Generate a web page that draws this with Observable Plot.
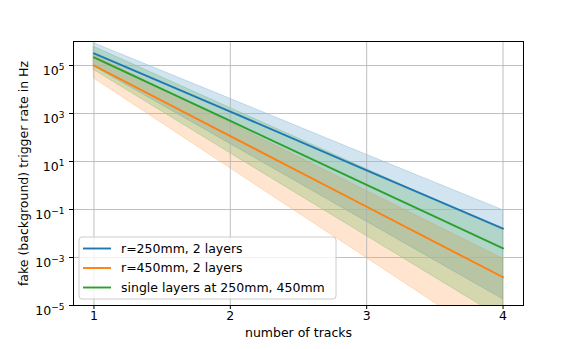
<!DOCTYPE html>
<html><head><meta charset="utf-8">
<script src="https://cdn.jsdelivr.net/npm/d3@7"></script>
<script src="https://cdn.jsdelivr.net/npm/@observablehq/plot@0.6"></script>
<style>body{margin:0;background:#fff;} svg{display:block;}</style>
</head><body><div id="chart"></div>
<script>
// ---- data ----
const tracks = [1, 2, 3, 4];
const seriesNames = ["r=250mm, 2 layers", "r=450mm, 2 layers", "single layers at 250mm, 450mm"];
const seriesColors = ["#1f77b4", "#ff7f0e", "#2ca02c"];
const rate250 = [3.2e5, 1.2e3, 4.3, 1.6e-2];
const rate250Hi = [8.5e5, 4.1e3, 19, 9.3e-2];
const rate250Lo = [9.1e4, 54, 3.1e-2, 1.8e-5];
const rate450 = [1.0e5, 115, 0.13, 1.5e-4];
const rate450Hi = [2.7e5, 400, 0.59, 8.9e-4];
const rate450Lo = [2.9e4, 5.2, 9.5e-4, 1.7e-7];
const rateSingle = [2.2e5, 490, 1.07, 2.4e-3];
const rateSingleHi = [6.0e5, 1.7e3, 4.8, 1.4e-2];
const rateSingleLo = [6.5e4, 22, 7.8e-3, 2.8e-6];
const yTicks = [1e-5, 1e-3, 1e-1, 1e1, 1e3, 1e5];
const xLabel = "number of tracks";
const yLabel = "fake (background) trigger rate in Hz";

const mids = [rate250, rate450, rateSingle];
const his = [rate250Hi, rate450Hi, rateSingleHi];
const los = [rate250Lo, rate450Lo, rateSingleLo];
const series = seriesNames.map((name, s) => tracks.map((t, i) => ({
  track: t, mid: mids[s][i], hi: his[s][i], lo: los[s][i], name
})));

const font = "DejaVu Sans, sans-serif";
const plot = Plot.plot({
  width: 581,
  height: 349,
  marginLeft: 73,
  marginRight: 58,
  marginTop: 41,
  marginBottom: 44,
  style: {fontFamily: font, fontSize: "12.5px", color: "#000", background: "#fff"},
  x: {type: "linear", domain: [0.85, 4.15]},
  y: {type: "log", domain: [1e-5, 1e6]},
  marks: [
    ...series.map((d, s) => Plot.areaY(d, {
      x: "track", y1: "lo", y2: "hi", fill: seriesColors[s], fillOpacity: 0.2,
      stroke: seriesColors[s], strokeOpacity: 0.2, strokeWidth: 1, clip: true
    })),
    Plot.gridX(tracks, {stroke: "#b0b0b0", strokeOpacity: 1, strokeWidth: 0.8}),
    Plot.gridY(yTicks, {stroke: "#b0b0b0", strokeOpacity: 1, strokeWidth: 0.8}),
    ...series.map((d, s) => Plot.line(d, {
      x: "track", y: "mid", stroke: seriesColors[s], strokeWidth: 1.9, clip: true
    })),
    Plot.axisX(tracks, {tickSize: 4, tickPadding: 2, tickFormat: d => String(d), label: null, fontSize: 12.5}),
    Plot.axisY(yTicks, {tickSize: 4, tickPadding: 5, tickFormat: d => "10^" + Math.round(Math.log10(d)), label: null, fontSize: 12.5}),
    Plot.frame({stroke: "#000", strokeWidth: 1}),
    Plot.text([xLabel], {frameAnchor: "bottom", dy: 27, text: d => d, fontSize: 12.5, lineAnchor: "middle", textAnchor: "middle"}),
    Plot.text([yLabel], {frameAnchor: "left", dx: -50, rotate: -90, text: d => d, fontSize: 12.5, lineAnchor: "middle", textAnchor: "middle"})
  ]
});
document.getElementById("chart").appendChild(plot);

// superscript exponents on y tick labels
const svg = d3.select(plot);
svg.selectAll('g[aria-label="y-axis tick label"] text').each(function() {
  const t = d3.select(this);
  const s = t.text();
  const exp = s.split("^")[1].replace("-", "\u2212");
  t.text("").attr("dy", "0.45em");
  t.append("tspan").text("10");
  t.append("tspan").attr("dy", "-0.55em").attr("font-size", "9px").text(exp);
});

// legend (matplotlib-style box)
const lg = svg.append("g").attr("font-family", font).attr("font-size", "12.5px").attr("text-anchor", "start");
lg.append("rect").attr("x", 79).attr("y", 237).attr("width", 257).attr("height", 62)
  .attr("rx", 3).attr("fill", "#fff").attr("fill-opacity", 0.8).attr("stroke", "#cccccc").attr("stroke-width", 1);
seriesNames.forEach((name, i) => {
  const y = 248.5 + i * 19.5;
  lg.append("line").attr("x1", 83).attr("x2", 111).attr("y1", y).attr("y2", y)
    .attr("stroke", seriesColors[i]).attr("stroke-width", 1.9);
  lg.append("text").attr("x", 121).attr("y", y).attr("dy", "0.35em").attr("text-anchor", "start").text(name);
});
</script>
</body></html>
